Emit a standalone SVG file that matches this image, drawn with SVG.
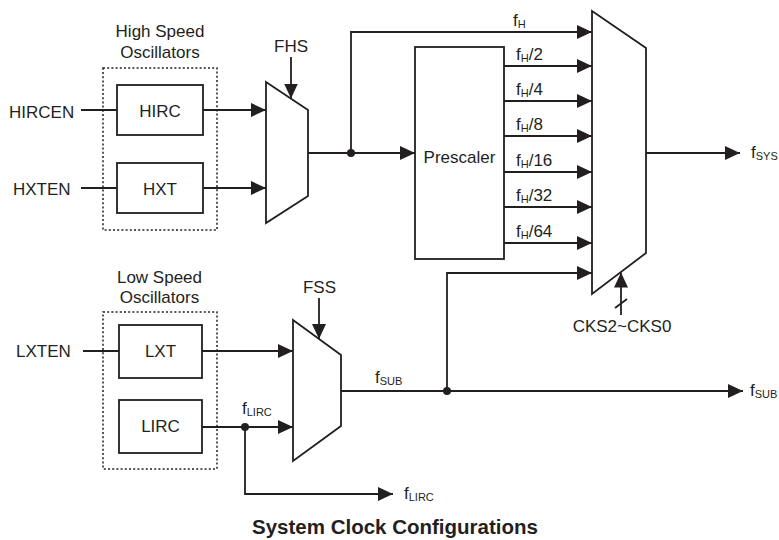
<svg xmlns="http://www.w3.org/2000/svg" width="779" height="540" viewBox="0 0 779 540">
<style>
text{font-family:"Liberation Sans",Arial,sans-serif;font-size:17px;fill:#231f20}
.c{text-anchor:middle}
.s{font-size:11px}
.t{font-size:20.5px;font-weight:bold}
.ln{fill:none;stroke:#231f20;stroke-width:1.8}
.bx{fill:#fff;stroke:#231f20;stroke-width:1.8}
.dot{fill:none;stroke:#231f20;stroke-width:1.5;stroke-dasharray:2 2.2}
.j{fill:#231f20}
</style>
<defs>
<marker id="a" markerUnits="userSpaceOnUse" markerWidth="15" markerHeight="14" refX="15" refY="7" orient="auto">
<path d="M0,0 L15,7 L0,14 z" fill="#231f20"/>
</marker>
</defs>

<g id="connectors">
<path class="ln" d="M81,110 H117"/>
<path class="ln" d="M81,188 H117"/>
<path class="ln" d="M83,351 H119"/>
<path class="ln" d="M203,110 H266" marker-end="url(#a)"/>
<path class="ln" d="M203,188 H266" marker-end="url(#a)"/>
<path class="ln" d="M291,57 V98.5" marker-end="url(#a)"/>
<path class="ln" d="M308,153 H415" marker-end="url(#a)"/>
<path class="ln" d="M351,153 V32 H592" marker-end="url(#a)"/>
<path class="ln" d="M504,66 H592" marker-end="url(#a)"/>
<path class="ln" d="M504,101 H592" marker-end="url(#a)"/>
<path class="ln" d="M504,136 H592" marker-end="url(#a)"/>
<path class="ln" d="M504,172 H592" marker-end="url(#a)"/>
<path class="ln" d="M504,207 H592" marker-end="url(#a)"/>
<path class="ln" d="M504,243 H592" marker-end="url(#a)"/>
<path class="ln" d="M646,153 H740" marker-end="url(#a)"/>
<path class="ln" d="M621,315 V272.5" marker-end="url(#a)"/>
<path class="ln" d="M615,308 L627,299"/>
<path class="ln" d="M202,351 H293" marker-end="url(#a)"/>
<path class="ln" d="M202,427 H293" marker-end="url(#a)"/>
<path class="ln" d="M245,427 V494 H393" marker-end="url(#a)"/>
<path class="ln" d="M319,298 V339" marker-end="url(#a)"/>
<path class="ln" d="M341,391 H743" marker-end="url(#a)"/>
<path class="ln" d="M447,391 V273 H592" marker-end="url(#a)"/>
<circle class="j" cx="351" cy="153" r="4"/>
<circle class="j" cx="245" cy="427" r="4"/>
<circle class="j" cx="447" cy="391" r="4"/>
</g>

<g id="hs-group">
<rect class="dot" x="103" y="68" width="114" height="162"/>
<text class="c" x="160" y="37">High Speed</text>
<text class="c" x="160" y="58">Oscillators</text>
</g>
<g id="hirc"><rect class="bx" x="117" y="85" width="86" height="50"/><text class="c" x="160" y="117">HIRC</text></g>
<g id="hxt"><rect class="bx" x="117" y="163" width="86" height="50"/><text class="c" x="160" y="195">HXT</text></g>
<g id="hirc-en"><text x="9" y="118">HIRCEN</text></g>
<g id="hxt-en"><text x="13" y="195">HXTEN</text></g>

<g id="fhs-mux">
<polygon class="bx" points="266,82 308,110 308,196 266,223"/>
<text class="c" x="291" y="52">FHS</text>
</g>

<g id="prescaler">
<rect class="bx" x="415" y="47" width="89" height="212"/>
<text class="c" x="459.5" y="163">Prescaler</text>
</g>

<g id="labels-fh">
<text x="513" y="26">f<tspan class="s" dy="2">H</tspan></text>
<text x="516" y="60">f<tspan class="s" dy="2">H</tspan><tspan dy="-2">/2</tspan></text>
<text x="516" y="95">f<tspan class="s" dy="2">H</tspan><tspan dy="-2">/4</tspan></text>
<text x="516" y="130">f<tspan class="s" dy="2">H</tspan><tspan dy="-2">/8</tspan></text>
<text x="516" y="166">f<tspan class="s" dy="2">H</tspan><tspan dy="-2">/16</tspan></text>
<text x="516" y="201">f<tspan class="s" dy="2">H</tspan><tspan dy="-2">/32</tspan></text>
<text x="516" y="237">f<tspan class="s" dy="2">H</tspan><tspan dy="-2">/64</tspan></text>
</g>

<g id="sys-mux">
<polygon class="bx" points="592,11 646,48 646,253 592,294"/>
<text class="c" x="622" y="332">CKS2~CKS0</text>
</g>
<g id="fsys"><text x="751" y="158">f<tspan class="s" dy="2">SYS</tspan></text></g>

<g id="ls-group">
<rect class="dot" x="103" y="312" width="114" height="157"/>
<text class="c" x="159.5" y="283">Low Speed</text>
<text class="c" x="159.5" y="303">Oscillators</text>
</g>
<g id="lxt"><rect class="bx" x="119" y="325" width="83" height="53"/><text class="c" x="160.5" y="357">LXT</text></g>
<g id="lirc"><rect class="bx" x="119" y="400" width="83" height="53"/><text class="c" x="160.5" y="432">LIRC</text></g>
<g id="lxt-en"><text x="16" y="357">LXTEN</text></g>

<g id="fss-mux">
<polygon class="bx" points="293,320 341,355 341,426 293,461"/>
<text class="c" x="319.5" y="293">FSS</text>
</g>

<g id="freq-labels">
<text x="242" y="414">f<tspan class="s" dy="2">LIRC</tspan></text>
<text x="375" y="383">f<tspan class="s" dy="2">SUB</tspan></text>
<text x="750" y="396">f<tspan class="s" dy="2">SUB</tspan></text>
<text x="404" y="499">f<tspan class="s" dy="2">LIRC</tspan></text>
</g>

<g id="title"><text class="c t" x="395" y="534">System Clock Configurations</text></g>
</svg>
